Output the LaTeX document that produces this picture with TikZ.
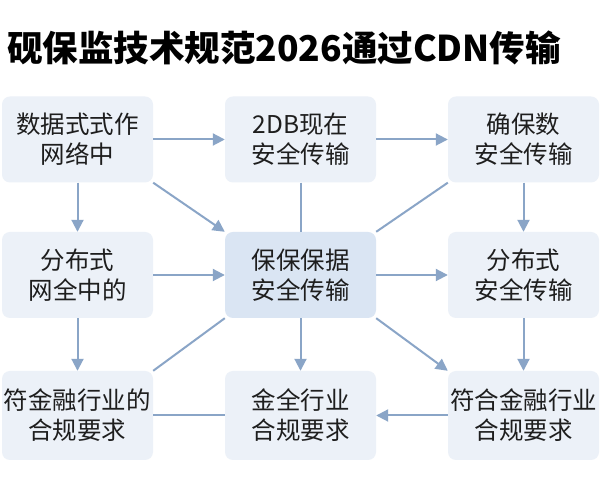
\documentclass[tikz,border=0pt]{standalone}
\usepackage{fontspec}
\setmainfont{Noto Sans CJK SC}[BoldFont={Noto Sans CJK SC Black}]
\usetikzlibrary{arrows.meta,positioning}
\definecolor{boxgray}{RGB}{236,241,248}
\definecolor{hubblue}{RGB}{218,229,243}
\definecolor{linkblue}{RGB}{138,165,199}
\definecolor{inkgray}{RGB}{30,30,30}

\tikzset{
  flowbox/.style={rounded corners=8pt, fill=boxgray, minimum width=151pt,
    minimum height=86pt, align=center, inner sep=2pt, text=inkgray,
    font=\fontsize{24.5}{30}\selectfont},
  hubbox/.style={flowbox, fill=hubblue},
  arr/.style={draw=linkblue, line width=2pt, -{Triangle[length=12pt,width=12pt]}},
  link/.style={draw=linkblue, line width=2pt},
}

\begin{document}
\begin{tikzpicture}[x=1pt, y=1pt]
  \fill[white] (0,0) rectangle (600,500);
  \useasboundingbox (0,0) rectangle (600,500);

  % title
  \node[anchor=west, inner sep=0pt, font=\fontsize{35.5}{40}\selectfont\bfseries] (title) at (7,452)
    {砚保监技术规范2026通过CDN传输};

  % top row
  \node[flowbox] (source) at (77.5,360.5) {数据式式作\\网络中};
  \node[flowbox] (twodb) at (300.5,360.5) {2DB现在\\安全传输};
  \node[flowbox] (ensure) at (523.5,360.5) {确保数\\安全传输};

  % middle row
  \node[flowbox] (distnet) at (77.5,225) {分布式\\网全中的};
  \node[hubbox] (hub) at (300.5,225) {保保保据\\安全传输};
  \node[flowbox] (distsafe) at (523.5,225) {分布式\\安全传输};

  % bottom row
  \node[flowbox, minimum height=89pt] (compleft) at (77.5,84.5) {符金融行业的\\合规要求};
  \node[flowbox, minimum height=89pt] (compmid) at (300.5,84.5) {金全行业\\合规要求};
  \node[flowbox, minimum height=89pt] (compright) at (523.5,84.5) {符合金融行业\\合规要求};

  % connectors
  \draw[arr] (source) -- (twodb);
  \draw[arr] (twodb) -- (ensure);
  \draw[arr] (source) -- (distnet);
  \draw[arr] (ensure) -- (distsafe);
  \draw[arr] (source.south east) -- (hub.north west);
  \draw[link] (twodb) -- (hub);
  \draw[link] (ensure.south west) -- (hub.north east);
  \draw[arr] (distnet) -- (hub);
  \draw[arr] (hub) -- (distsafe);
  \draw[arr] (distnet) -- (compleft);
  \draw[link] (hub.south west) -- (compleft.north east);
  \draw[arr] (hub) -- (compmid);
  \draw[arr] (hub.south east) -- (compright.north west);
  \draw[arr] (distsafe) -- (compright);
  \draw[arr] (compright) -- (compmid);
  \draw[link] (compleft) -- (compmid);
\end{tikzpicture}
\end{document}
